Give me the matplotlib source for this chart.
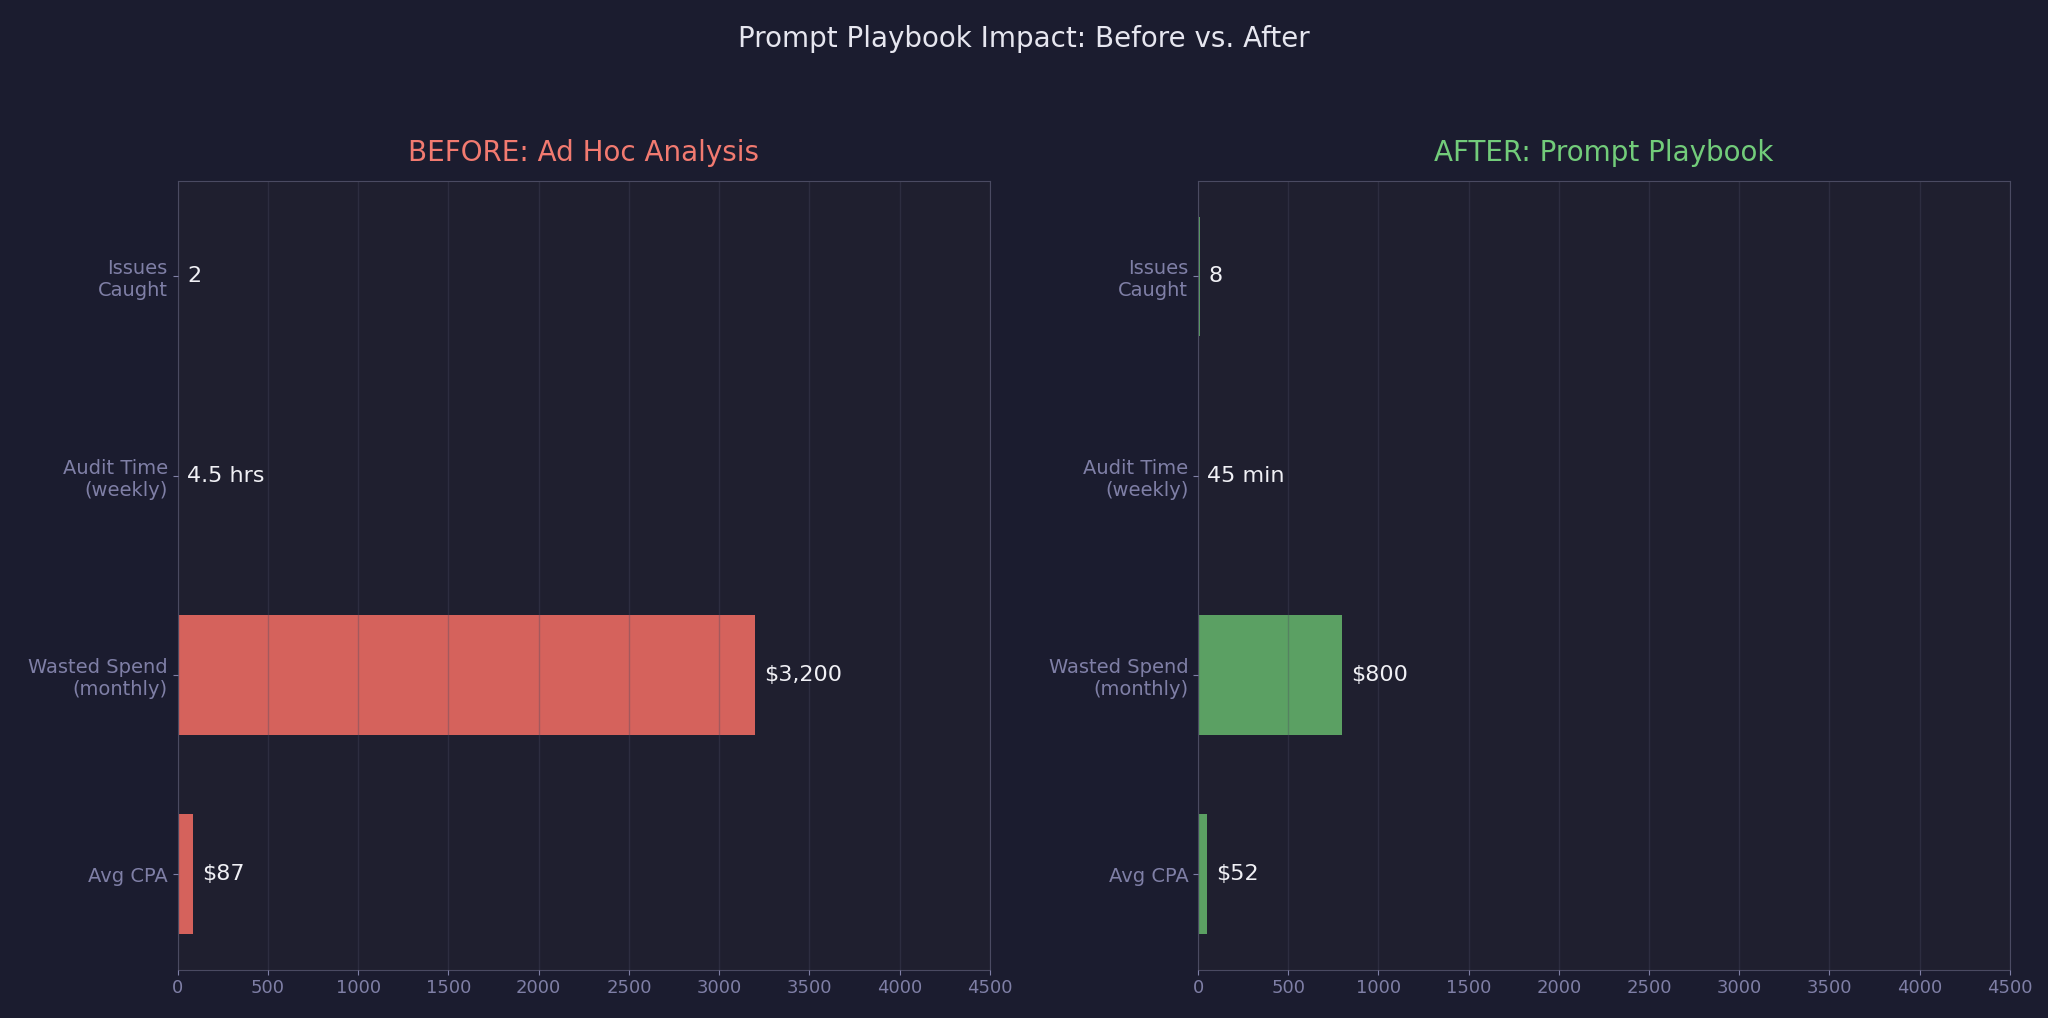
import matplotlib.pyplot as plt

categories = ['Issues\nCaught', 'Audit Time\n(weekly)', 'Wasted Spend\n(monthly)', 'Avg CPA']
before_vals = [2, 4.5, 3200, 87]
after_vals = [8, 0.75, 800, 52]
before_labels = ['2', '4.5 hrs', '$3,200', '$87']
after_labels = ['8', '45 min', '$800', '$52']

bg = '#1b1c2f'
face = '#1f1f2f'
tick_col = '#7f7fa6'

fig = plt.figure(figsize=(20.48, 10.18), dpi=100, facecolor=bg)
fig.suptitle('Prompt Playbook Impact: Before vs. After', color='#e6e6ef', fontsize=20, y=0.975)

panels = [
    ([0.0867, 0.0475, 0.3967, 0.775], before_vals, before_labels, '#e0665f', 'BEFORE: Ad Hoc Analysis', '#f27a70'),
    ([0.585, 0.0475, 0.3963, 0.775], after_vals, after_labels, '#5fa866', 'AFTER: Prompt Playbook', '#72cc7a'),
]

for rect, vals, labels, col, title, tcol in panels:
    ax = fig.add_axes(rect, facecolor=face)
    ypos = range(len(categories))
    ax.barh(ypos, vals, height=0.6, color=col, alpha=0.95, zorder=2)
    ax.set_axisbelow(False)
    ax.grid(axis='x', color='#4a4a60', alpha=0.35, linewidth=1, zorder=3)
    ax.set_yticks(list(ypos))
    ax.set_yticklabels(categories)
    ax.invert_yaxis()
    ax.set_xlim(0, 4500)
    ax.set_xticks(range(0, 4501, 500))
    ax.tick_params(colors=tick_col, labelsize=13)
    ax.tick_params(axis='y', labelsize=14)
    for s in ax.spines.values():
        s.set_color('#4a4a62')
    for y, v, lab in zip(ypos, vals, labels):
        ax.text(v + 50, y, lab, color='#f0f0f5', fontsize=16, va='center', zorder=4)
    ax.set_title(title, color=tcol, fontsize=20, pad=14)

fig.savefig('out.png', facecolor=bg)
